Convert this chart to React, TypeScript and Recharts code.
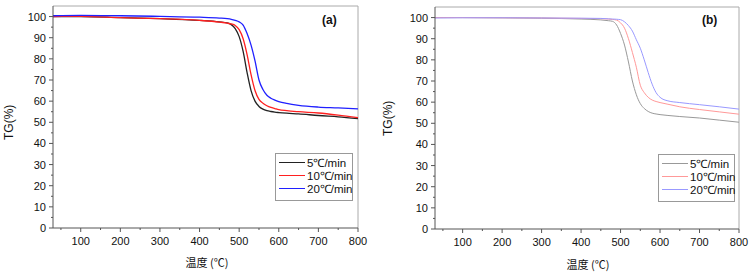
import React from 'react';
import { LineChart, Line, XAxis, YAxis, ReferenceLine, Legend } from 'recharts';

// temperature grid (℃)
const temps = [30, 100, 200, 300, 400, 450, 470, 480, 490, 500, 510, 520, 530, 540, 550, 560, 570, 580, 590, 600, 620, 650, 700, 750, 800];

// panel (a) TG (%)
const a5 = [100, 100, 99.5, 99, 98.2, 97.5, 97, 96.2, 94.3, 90.5, 83.5, 73.5, 65, 60, 57.5, 56.2, 55.5, 55.1, 54.8, 54.6, 54.3, 54, 53.2, 52.6, 51.8];
const a10 = [100, 100.1, 99.5, 99, 98.2, 97.4, 96.9, 96.5, 95.8, 93.8, 89.5, 82, 72.5, 65, 60.8, 59, 57.8, 57, 56.5, 56, 55.5, 55, 54.4, 53.4, 52.2];
const a20 = [100.4, 100.6, 100.4, 100.1, 99.7, 99.3, 99, 98.7, 98.2, 97.5, 96, 92, 86.5, 79, 70, 65.5, 62.8, 61.4, 60.5, 59.8, 58.9, 58, 57.2, 56.8, 56.3];

// panel (b) TG (%)
const b5 = [100, 100, 99.9, 99.7, 99.3, 98.9, 98.5, 98.2, 96.5, 92.5, 87, 79, 70, 63.5, 59.3, 57, 55.6, 54.8, 54.4, 54.1, 53.7, 53.2, 52.5, 51.5, 50.5];
const b10 = [100, 100, 99.9, 99.8, 99.6, 99.5, 99.3, 99.1, 98.8, 97.5, 95, 90, 83.5, 76.5, 68, 64.5, 62.3, 61, 60.3, 59.8, 59, 57.8, 56.5, 55.4, 54.3];
const b20 = [99.8, 99.9, 99.9, 99.8, 99.7, 99.6, 99.4, 99.3, 99.2, 99, 98, 96.2, 93.6, 89.5, 85.5, 80, 74, 68.5, 64.5, 62.3, 60.6, 59.8, 58.8, 57.8, 56.7];

const rateNames = ['5℃/min', '10℃/min', '20℃/min'];
const xTicks = [50, 100, 150, 200, 250, 300, 350, 400, 450, 500, 550, 600, 650, 700, 750, 800];
const yTicks = [0, 5, 10, 15, 20, 25, 30, 35, 40, 45, 50, 55, 60, 65, 70, 75, 80, 85, 90, 95, 100];

const dataA = temps.map((t, i) => ({ t, s5: a5[i], s10: a10[i], s20: a20[i] }));
const dataB = temps.map((t, i) => ({ t, s5: b5[i], s10: b10[i], s20: b20[i] }));

const tickFont = { fontFamily: '"Liberation Sans", Arial, sans-serif', fontSize: 11, fill: '#111' };
const axisColor = '#555';

const YTick = ({ x, y, payload }: any) => {
  const major = payload.value % 10 === 0;
  return (
    <g>
      <line x1={x} x2={x - (major ? 4 : 2)} y1={y} y2={y} stroke={axisColor} />
      {major && (
        <text x={x - 7} y={y} dy={4} textAnchor="end" {...tickFont}>
          {payload.value}
        </text>
      )}
    </g>
  );
};

const XTick = ({ x, y, payload }: any) => {
  const major = payload.value % 100 === 0;
  return (
    <g>
      <line x1={x} x2={x} y1={y} y2={y + (major ? 4 : 2)} stroke={axisColor} />
      {major && (
        <text x={x} y={y + 17} textAnchor="middle" {...tickFont}>
          {payload.value}
        </text>
      )}
    </g>
  );
};

const LegendBox = ({ payload }: any) => {
  // keep the series order (5, 10, 20) instead of the sorted one
  const items = [...(payload || [])].sort(
    (p: any, q: any) => rateNames.indexOf(p.value) - rateNames.indexOf(q.value)
  );
  return (
    <div
      style={{
        border: '1px solid #999',
        background: '#fff',
        padding: '2px 3px 5px 3px',
        fontFamily: '"Liberation Sans", Arial, sans-serif',
        fontSize: 11.5,
        color: '#111',
        textAlign: 'left',
      }}
    >
      {items.map((p: any) => (
        <div key={p.value} style={{ display: 'flex', alignItems: 'center', height: 13 }}>
          <div style={{ width: 26, flexShrink: 0, height: 0, borderTop: `1px solid ${p.color}`, marginRight: 2 }} />
          <span style={{ whiteSpace: 'nowrap' }}>{p.value}</span>
        </div>
      ))}
    </div>
  );
};

interface PanelProps {
  data: any[];
  colors: string[];
  width: number;
  yWidth: number;
  margin: { top: number; right: number; left: number; bottom: number };
  xHeight: number;
  legendPos: { left: number; top: number; width: number };
  strokeWidth: number;
}

function Panel({ data, colors, width, yWidth, margin, xHeight, legendPos, strokeWidth }: PanelProps) {
  return (
    <LineChart width={width} height={272} data={data} margin={margin}>
      <XAxis
        dataKey="t"
        type="number"
        domain={[30, 800]}
        ticks={xTicks}
        interval={0}
        allowDataOverflow
        height={xHeight}
        tickSize={0}
        tickMargin={0}
        tickLine={false}
        tick={<XTick />}
        stroke={axisColor}
      />
      <YAxis
        type="number"
        domain={[0, 105]}
        ticks={yTicks}
        interval={0}
        allowDataOverflow
        width={yWidth}
        tickSize={0}
        tickMargin={0}
        tickLine={false}
        tick={<YTick />}
        stroke={axisColor}
      />
      <ReferenceLine y={105} stroke="#aaa" />
      <ReferenceLine x={800} stroke="#aaa" />
      <Legend
        layout="vertical"
        align="center"
        verticalAlign="middle"
        wrapperStyle={{ left: legendPos.left, top: legendPos.top, width: legendPos.width }}
        content={(props: any) => <LegendBox {...props} />}
      />
      {['s5', 's10', 's20'].map((k, i) => (
        <Line
          key={k}
          type="monotone"
          dataKey={k}
          name={rateNames[i]}
          stroke={colors[i]}
          strokeWidth={strokeWidth}
          dot={false}
          isAnimationActive={false}
        />
      ))}
    </LineChart>
  );
}

const labelFont: React.CSSProperties = {
  position: 'absolute',
  fontFamily: '"Liberation Sans", Arial, sans-serif',
  fontSize: 12,
  color: '#111',
  whiteSpace: 'nowrap',
};

export default function App() {
  return (
    <div style={{ position: 'absolute', left: 0, top: 0, width: 751, height: 272, background: '#fff', overflow: 'hidden' }}>
      <div style={{ position: 'absolute', left: 0, top: 0 }}>
        <Panel
          data={dataA}
          colors={['#222222', '#ff2020', '#2020ff']}
          width={375}
          yWidth={53}
          margin={{ top: 6, right: 17, left: 0, bottom: 0 }}
          xHeight={44}
          legendPos={{ left: 275, top: 153, width: 78 }}
          strokeWidth={1.3}
        />
      </div>
      <div style={{ position: 'absolute', left: 375, top: 0 }}>
        <Panel
          data={dataB}
          colors={['#999999', '#ff9999', '#9999ff']}
          width={376}
          yWidth={60}
          margin={{ top: 7, right: 12, left: 0, bottom: 0 }}
          xHeight={43}
          legendPos={{ left: 283, top: 154, width: 77 }}
          strokeWidth={1}
        />
      </div>

      <div style={{ ...labelFont, left: -8, top: 116, transform: 'rotate(-90deg)', width: 34, textAlign: 'center' }}>TG(%)</div>
      <div style={{ ...labelFont, left: 371, top: 112, transform: 'rotate(-90deg)', width: 34, textAlign: 'center' }}>TG(%)</div>

      <div style={{ ...labelFont, left: 183, top: 254, width: 48, textAlign: 'center', fontFamily: '"Noto Sans CJK SC", sans-serif', fontSize: 11 }}>温度 (℃)</div>
      <div style={{ ...labelFont, left: 564, top: 256, width: 48, textAlign: 'center', fontFamily: '"Noto Sans CJK SC", sans-serif', fontSize: 11 }}>温度 (℃)</div>

      <div style={{ ...labelFont, left: 322, top: 13, fontWeight: 'bold' }}>(a)</div>
      <div style={{ ...labelFont, left: 702, top: 13, fontWeight: 'bold' }}>(b)</div>
    </div>
  );
}
